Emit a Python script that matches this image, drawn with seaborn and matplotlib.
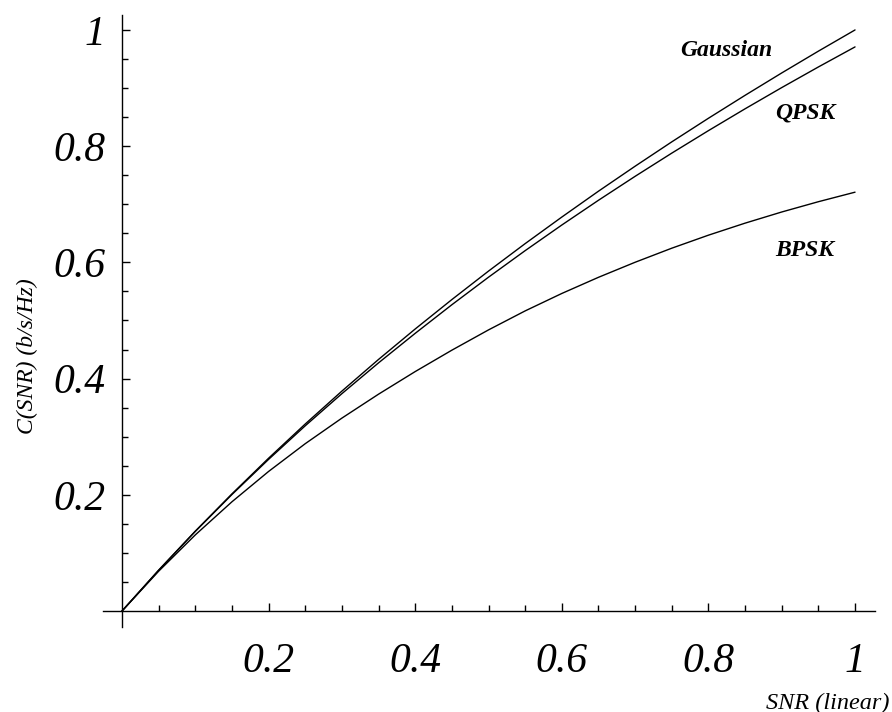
import numpy as np
import pandas as pd
import matplotlib
matplotlib.use("Agg")
import matplotlib.pyplot as plt
import seaborn as sns

# values
snr = [0.0, 0.05, 0.1, 0.15, 0.2, 0.25, 0.3, 0.35, 0.4, 0.45, 0.5,
       0.55, 0.6, 0.65, 0.7, 0.75, 0.8, 0.85, 0.9, 0.95, 1.0]
gaussian = [0.0, 0.0704, 0.1375, 0.2016, 0.263, 0.3219, 0.3785, 0.433, 0.4854, 0.536, 0.585,
            0.6323, 0.678, 0.7225, 0.7655, 0.8074, 0.848, 0.8875, 0.926, 0.9635, 1.0]
qpsk = [0.0, 0.070, 0.137, 0.2005, 0.261, 0.3188, 0.3741, 0.4271, 0.4779, 0.5271, 0.5745,
        0.6202, 0.6643, 0.7069, 0.7481, 0.788, 0.8267, 0.8643, 0.9008, 0.9363, 0.9708]
bpsk = [0.0, 0.0685, 0.131, 0.188, 0.2402, 0.288, 0.332, 0.3732, 0.4121, 0.4489, 0.4838,
        0.5165, 0.5465, 0.5743, 0.6002, 0.6244, 0.6468, 0.6675, 0.6867, 0.7044, 0.7208]

series = ["Gaussian", "QPSK", "BPSK"]
major_ticks = [0.2, 0.4, 0.6, 0.8, 1.0]
major_labels = ["0.2", "0.4", "0.6", "0.8", "1"]
minor_ticks = [0.05, 0.1, 0.15, 0.25, 0.3, 0.35, 0.45, 0.5, 0.55,
               0.65, 0.7, 0.75, 0.85, 0.9, 0.95]

df = pd.DataFrame({
    "SNR": snr * 3,
    "C": gaussian + qpsk + bpsk,
    "curve": np.repeat(series, len(snr)),
})

sns.set_style("white")
plt.rcParams["font.family"] = ["Liberation Serif"]
plt.rcParams["text.color"] = "black"
plt.rcParams["xtick.labelcolor"] = "black"
plt.rcParams["ytick.labelcolor"] = "black"

fig = plt.figure(figsize=(8.92, 7.12), dpi=100)
ax = fig.add_axes([0.1155, 0.1194, 0.8655, 0.8596])

sns.lineplot(data=df, x="SNR", y="C", hue="curve", palette=["black"] * 3,
             linewidth=1.0, legend=False, ax=ax)

ax.set_xlim(-0.0259, 1.0273)
ax.set_ylim(-0.0275, 1.0258)

for side in ["top", "right"]:
    ax.spines[side].set_visible(False)
for side in ["left", "bottom"]:
    ax.spines[side].set_position(("data", 0))
    ax.spines[side].set_linewidth(1.0)
    ax.spines[side].set_color("black")

ax.set_xticks(major_ticks)
ax.set_xticklabels(major_labels)
ax.set_yticks(major_ticks)
ax.set_yticklabels(major_labels)
ax.set_xticks(minor_ticks, minor=True)
ax.set_yticks(minor_ticks, minor=True)

ax.tick_params(axis="x", which="both", bottom=True, direction="in", color="black",
               labelcolor="black")
ax.tick_params(axis="y", which="both", left=True, direction="in", color="black",
               labelcolor="black")
ax.tick_params(axis="x", which="major", length=6, width=1, pad=23)
ax.tick_params(axis="y", which="major", length=6, width=1, pad=12)
ax.tick_params(which="minor", length=4, width=1)
for lab in ax.get_xticklabels() + ax.get_yticklabels():
    lab.set_fontsize(30)
    lab.set_fontstyle("italic")

ax.set_xlabel("")
ax.set_ylabel("")

fig.text(27 / 892, 1 - 356 / 712, "C(SNR) (b/s/Hz)", rotation=90, fontsize=17,
         fontstyle="italic", ha="center", va="center", color="black")
fig.text(766 / 892, 1 - 693 / 712, "SNR (linear)", fontsize=17.5,
         fontstyle="italic", ha="left", va="top", color="black")

ax.text(0.824, 0.964, "Gaussian", fontsize=17, fontstyle="italic", fontweight="bold",
        ha="center", va="center", color="black")
ax.text(0.932, 0.857, "QPSK", fontsize=17, fontstyle="italic", fontweight="bold",
        ha="center", va="center", color="black")
ax.text(0.932, 0.62, "BPSK", fontsize=17, fontstyle="italic", fontweight="bold",
        ha="center", va="center", color="black")

fig.savefig("out.png", dpi=100)
